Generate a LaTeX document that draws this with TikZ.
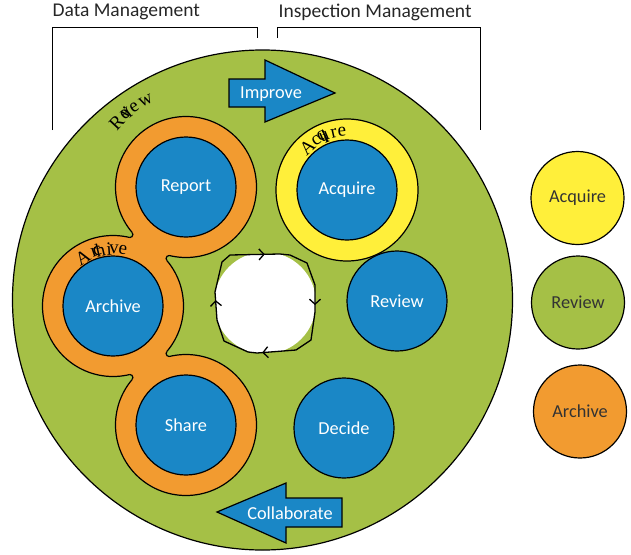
\documentclass[tikz,border=0pt]{standalone}
\usepackage{fontspec}
\setmainfont{Carlito}
\newfontfamily\garbfont{Liberation Serif}
\usetikzlibrary{calc,arrows.meta,decorations.markings}
\definecolor{wheelgreen}{HTML}{A5C046}
\definecolor{ringorange}{HTML}{F29B30}
\definecolor{ringyellow}{HTML}{FFEF3A}
\definecolor{stepblue}{HTML}{1A87C6}
% closed loop round the white hub
\newcommand\hubloop{(222,262) -- (230,255) -- (280,254) -- (290,255) -- (307,263) -- (315,285) -- (315,312) -- (311,340) -- (296,350) -- (257,353) -- (248,352) -- (224,341) -- (217,320) -- (215,292) -- cycle}

\begin{document}
\begin{tikzpicture}[x=1pt,y=-1pt,line width=1.2pt,
  disk/.style={circle, draw, fill=stepblue, minimum size=100pt, text=white, font=\fontsize{18.3}{20}\selectfont},
  keydisk/.style={circle, draw, minimum size=93pt, text=black!80, font=\fontsize{18.3}{20}\selectfont},
  head/.style={font=\fontsize{19.5}{22}\selectfont, text=black!85, inner sep=0pt},
  garble/.style={font=\garbfont\fontsize{19}{19}\selectfont, inner sep=0pt},
  blockarrow/.style={draw, fill=stepblue, line join=miter},
  barb/.tip={Straight Barb[length=5pt,width=11pt]},
  >=Stealth]
  \useasboundingbox (0,0) rectangle (631,554);

  % the wheel
  \filldraw[fill=wheelgreen] (262.5,300) circle (250pt);

  \coordinate (report) at (186,187);
  \coordinate (archive) at (113,306);
  \coordinate (share) at (186,425);
  \coordinate (acquire) at (347,190);

  % rings
  \filldraw[fill=ringorange] (report) circle (70.5pt) (archive) circle (70.5pt) (share) circle (70.5pt);
  \filldraw[fill=ringyellow] (acquire) circle (71pt);
  % necks between the orange rings
  \coordinate (n1a) at (169.1,258.5);
  \coordinate (n1b) at (129.9,234.5);
  \coordinate (n2a) at (169.1,353.5);
  \coordinate (n2b) at (129.9,377.5);
  \fill[ringorange] (report) -- (n1a) -- (archive) -- (n1b) -- cycle;
  \fill[ringorange] (archive) -- (n2a) -- (share) -- (n2b) -- cycle;
  \begin{scope}
    \clip (report) -- (n1a) -- (archive) -- (n1b) -- cycle;
    \filldraw[fill=wheelgreen] (n1a) circle (3pt) (n1b) circle (3pt);
  \end{scope}
  \begin{scope}
    \clip (archive) -- (n2a) -- (share) -- (n2b) -- cycle;
    \filldraw[fill=wheelgreen] (n2a) circle (3pt) (n2b) circle (3pt);
  \end{scope}

  % steps
  \node[disk] (reportdisk) at (report) {Report};
  \node[disk] (acquiredisk) at (acquire) {Acquire};
  \node[disk] (archivedisk) at (archive) {Archive};
  \node[disk] (sharedisk) at (share) {Share};
  \node[disk] (reviewdisk) at (397,301) {Review};
  \node[disk] (decidedisk) at (344,428) {Decide};

  % squeezed ring labels
  \foreach \ch/\ang [count=\k] in {R/137, e/130, v/129, i/128, e/123, w/115}
    \node[garble, rotate=\ang-90] (rv\k) at ($(report)+(\ang:95pt)$) {\ch};
  \foreach \ch/\ang [count=\k] in {A/122, r/109, c/106, h/103, i/94, v/89, e/80}
    \node[garble, rotate=\ang-90] (ar\k) at ($(archive)+(\ang:57pt)$) {\ch};
  \foreach \ch/\ang [count=\k] in {A/133, c/122, q/115, u/113, i/112, r/103, e/95}
    \node[garble, rotate=\ang-90] (aq\k) at ($(acquire)+(\ang:58pt)$) {\ch};

  % hub
  \begin{scope}
    \clip \hubloop;
    \fill[white] (265,303) circle (51pt);
  \end{scope}
  \draw[line width=1.3pt, postaction={decorate}, decoration={markings,
      mark=at position 0.133 with {\arrow{barb}},
      mark=at position 0.389 with {\arrow{barb}},
      mark=at position 0.644 with {\arrow{barb}},
      mark=at position 0.886 with {\arrow{barb}}}] \hubloop;

  % block arrows
  \draw[blockarrow] (229,79) -- (265,79) -- (265,60) -- (335,93) -- (265,122) -- (265,107) -- (229,107) -- cycle;
  \node[text=white, font=\fontsize{18.3}{20}\selectfont] (improve) at (271,94) {Improve};
  \draw[blockarrow] (342,498) -- (286,498) -- (286,483) -- (217,512) -- (286,543) -- (286,527) -- (342,527) -- cycle;
  \node[text=white, font=\fontsize{18.3}{20}\selectfont] (collab) at (290,513) {Collaborate};

  % brackets
  \draw[line width=1pt] (52,130) -- (52,27) -- (257,27) -- (257,38);
  \draw[line width=1pt] (277,38) -- (277,27) -- (480,27) -- (480,130);
  \node[head, anchor=west] (datamgmt) at (52,12) {Data Management};
  \node[head, anchor=west] (inspmgmt) at (278,12) {Inspection Management};

  % legend
  \node[keydisk, fill=ringyellow] (keyacquire) at (577.5,198) {Acquire};
  \node[keydisk, fill=wheelgreen] (keyreview) at (578,302.5) {Review};
  \node[keydisk, fill=ringorange] (keyarchive) at (580,411.5) {Archive};
\end{tikzpicture}
\end{document}
